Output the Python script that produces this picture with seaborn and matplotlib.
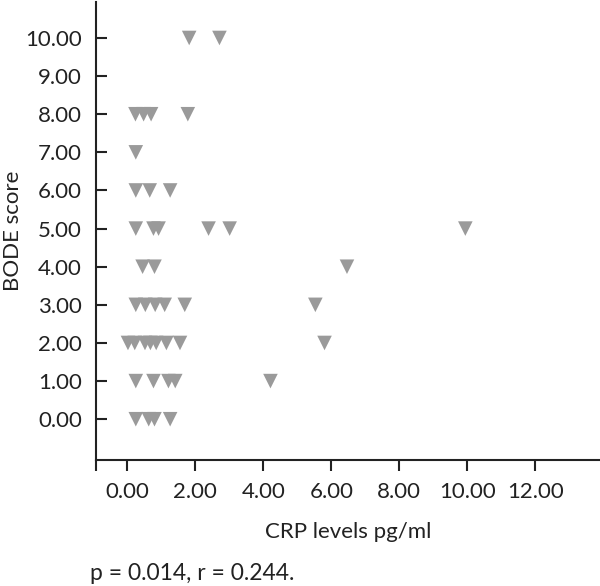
import matplotlib
matplotlib.use("Agg")
import matplotlib.pyplot as plt
import seaborn as sns
import pandas as pd

# Data (CRP levels vs BODE score)
crp = [1.82, 2.71,
       0.24, 0.48, 0.70, 1.78,
       0.25,
       0.25, 0.66, 1.26,
       0.25, 0.77, 0.92, 2.39, 3.01, 9.94,
       0.45, 0.80, 6.46,
       0.25, 0.53, 0.82, 1.10, 1.69, 5.53,
       0.02, 0.22, 0.52, 0.68, 0.85, 1.15, 1.55, 5.80,
       0.25, 0.77, 1.21, 1.41, 4.21,
       0.25, 0.63, 0.80, 1.26]
bode = [10, 10,
        8, 8, 8, 8,
        7,
        6, 6, 6,
        5, 5, 5, 5, 5, 5,
        4, 4, 4,
        3, 3, 3, 3, 3, 3,
        2, 2, 2, 2, 2, 2, 2, 2,
        1, 1, 1, 1, 1,
        0, 0, 0, 0]
x_ticks = [0, 2, 4, 6, 8, 10, 12]
y_ticks = [0, 1, 2, 3, 4, 5, 6, 7, 8, 9, 10]

df = pd.DataFrame({"CRP": crp, "BODE": bode})

sns.set_style("white")
plt.rcParams["font.family"] = ["Lato", "DejaVu Sans"]

fig = plt.figure(figsize=(6.0, 5.86), dpi=100)
ax = fig.add_axes([0.16, 0.215, 0.84, 0.782])

sns.scatterplot(data=df, x="CRP", y="BODE", marker="v", s=110, color="#9a9a9a",
                edgecolor="none", ax=ax, legend=False)

ax.set_xlim(-0.92, 13.9)
ax.set_ylim(-1.07, 10.95)
ax.set_xticks(x_ticks)
ax.set_xticklabels([f"{v:.2f}" for v in x_ticks], fontsize=16, color="#222222")
ax.set_yticks(y_ticks)
ax.set_yticklabels([f"{v:.2f}" for v in y_ticks], fontsize=16, color="#222222")
ax.set_xticks([-0.92], minor=True)

for side in ["top", "right"]:
    ax.spines[side].set_visible(False)
for side in ["left", "bottom"]:
    ax.spines[side].set_linewidth(1.5)
    ax.spines[side].set_color("#222222")

ax.tick_params(axis="x", which="both", direction="out", length=8, width=1.5,
               color="#222222", pad=8, bottom=True)
ax.tick_params(axis="y", direction="in", length=8, width=1.5, color="#222222",
               pad=10, left=True)

ax.set_xlabel("CRP levels pg/ml", fontsize=16, color="#222222", labelpad=14)
ax.set_ylabel("BODE score", fontsize=16, color="#222222")
ax.yaxis.set_label_coords(-0.145, 0.5)

fig.text(0.15, 0.011, "p = 0.014, r = 0.244.", fontsize=16.5, color="#222222")

fig.savefig("out.png", dpi=100)
